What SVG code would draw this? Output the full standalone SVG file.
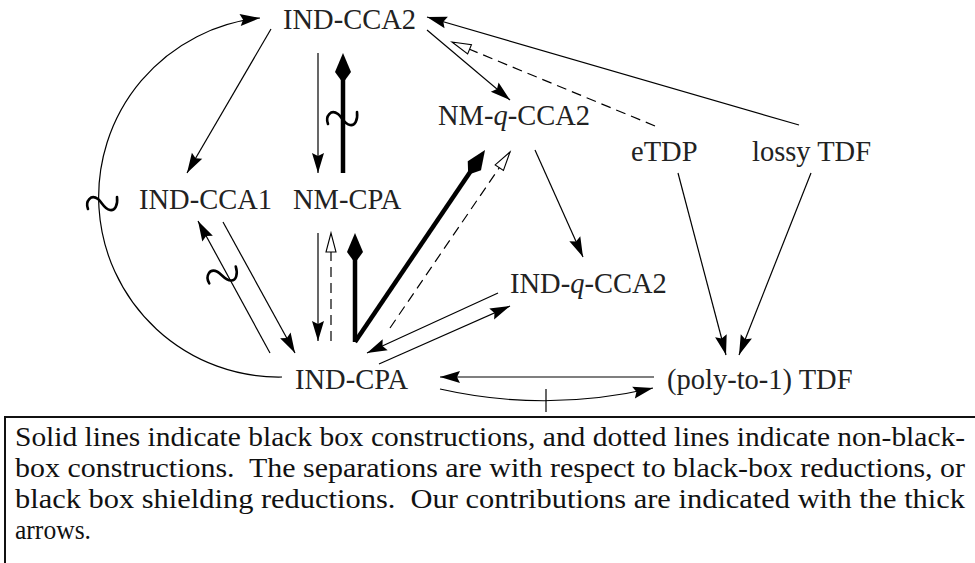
<svg xmlns="http://www.w3.org/2000/svg" width="975" height="563" viewBox="0 0 975 563">
<style>
  .lbl { font-family: "Liberation Serif", "Times New Roman", serif; font-size: 28.5px; fill: #222; }
  .cap { font-family: "Liberation Serif", "Times New Roman", serif; font-size: 28px; fill: #111; white-space: pre; }
  .thin { stroke: #000; stroke-width: 1.2; fill: none; }
  .thick { stroke: #000; stroke-width: 4.5; fill: none; }
  .dash { stroke: #000; stroke-width: 1.2; fill: none; stroke-dasharray: 10 6; }
  .sq { stroke: #000; stroke-width: 2.6; fill: none; stroke-linecap: round; }
</style>
<defs>
  <marker id="ah" markerUnits="userSpaceOnUse" orient="auto" refX="0" refY="0" markerWidth="30" markerHeight="20" style="overflow:visible">
    <path d="M0,0 L-20,-6 L-17,0 L-20,6 Z" fill="#000"/>
  </marker>
  <marker id="ahT" markerUnits="userSpaceOnUse" orient="auto" refX="-12" refY="0" markerWidth="40" markerHeight="30" style="overflow:visible">
    <path d="M0,0 L-19,-8 L-27,-2.2 L-27,2.2 L-19,8 Z" fill="#000"/>
  </marker>
  <marker id="ahO" markerUnits="userSpaceOnUse" orient="auto" refX="0" refY="0" markerWidth="30" markerHeight="20" style="overflow:visible">
    <path d="M0,0 L-19,-5 L-19,5 Z" fill="#fff" stroke="#000" stroke-width="1.1"/>
  </marker>
  <path id="squig" d="M-14,6 C-17,-2 -11,-9 -4,-4 C0,-1 2,6 8,7 C13,8 16,2 15,-6"/>
</defs>

<g id="connectors">
  <path class="thin" d="M 282 377 A 180 180 0 0 1 260 18" marker-end="url(#ah)"/>
  <use href="#squig" class="sq" transform="translate(102,203)"/>
  <line class="thin" x1="271" y1="29" x2="187" y2="173" marker-end="url(#ah)"/>
  <line class="thin" x1="318" y1="53" x2="318" y2="173" marker-end="url(#ah)"/>
  <line class="thick" x1="343" y1="173" x2="343" y2="65" marker-end="url(#ahT)"/>
  <use href="#squig" class="sq" transform="translate(342,118)"/>
  <line class="thin" x1="427" y1="30" x2="510" y2="100" marker-end="url(#ah)"/>
  <line class="dash" x1="655" y1="126" x2="452" y2="42" marker-end="url(#ahO)"/>
  <line class="thin" x1="799" y1="125" x2="427" y2="17" marker-end="url(#ah)"/>
  <line class="thin" x1="535" y1="150" x2="583" y2="257" marker-end="url(#ah)"/>
  <line class="thin" x1="678" y1="173" x2="726" y2="355" marker-end="url(#ah)"/>
  <line class="thin" x1="811" y1="173" x2="739" y2="355" marker-end="url(#ah)"/>
  <line class="thin" x1="270" y1="353" x2="198" y2="221" marker-end="url(#ah)"/>
  <use href="#squig" class="sq" transform="translate(222,275) rotate(-10)"/>
  <line class="thin" x1="223" y1="222" x2="295" y2="353" marker-end="url(#ah)"/>
  <line class="thin" x1="318" y1="233" x2="318" y2="341" marker-end="url(#ah)"/>
  <line class="dash" x1="331" y1="341" x2="331" y2="233" marker-end="url(#ahO)"/>
  <line class="thick" x1="355" y1="342" x2="355" y2="245" marker-end="url(#ahT)"/>
  <line class="thick" x1="355" y1="342" x2="478.3" y2="159.9" marker-end="url(#ahT)"/>
  <line class="dash" x1="390" y1="328" x2="510" y2="152" marker-end="url(#ahO)"/>
  <line class="thin" x1="498" y1="293" x2="367" y2="353" marker-end="url(#ah)"/>
  <line class="thin" x1="379" y1="364" x2="510" y2="306" marker-end="url(#ah)"/>
  <line class="thin" x1="654" y1="377" x2="440" y2="377" marker-end="url(#ah)"/>
  <path class="thin" d="M 440 389 Q 546 413 653 388" marker-end="url(#ah)"/>
  <line class="thin" x1="546" y1="389" x2="546" y2="412" stroke-width="1.6"/>
</g>

<g id="IND-CCA2"><text class="lbl" x="283" y="29">IND-CCA2</text></g>
<g id="NM-q-CCA2"><text class="lbl" x="438" y="125">NM-<tspan font-style="italic">q</tspan>-CCA2</text></g>
<g id="eTDP"><text class="lbl" x="631" y="161">eTDP</text></g>
<g id="lossy-TDF"><text class="lbl" x="752" y="161">lossy TDF</text></g>
<g id="IND-CCA1"><text class="lbl" x="139" y="209">IND-CCA1</text></g>
<g id="NM-CPA"><text class="lbl" x="293" y="209">NM-CPA</text></g>
<g id="IND-q-CCA2"><text class="lbl" x="510" y="293">IND-<tspan font-style="italic">q</tspan>-CCA2</text></g>
<g id="IND-CPA"><text class="lbl" x="295" y="389">IND-CPA</text></g>
<g id="poly-TDF"><text class="lbl" x="667" y="389">(poly-to-1) TDF</text></g>

<g id="caption">
  <rect x="5" y="417" width="990" height="170" fill="none" stroke="#111" stroke-width="2"/>
  <text class="cap" x="15" y="446" textLength="950" lengthAdjust="spacingAndGlyphs">Solid lines indicate black box constructions, and dotted lines indicate non-black-</text>
  <text class="cap" x="15" y="477" textLength="950" lengthAdjust="spacingAndGlyphs">box constructions.  The separations are with respect to black-box reductions, or</text>
  <text class="cap" x="15" y="508" textLength="950" lengthAdjust="spacingAndGlyphs">black box shielding reductions.  Our contributions are indicated with the thick</text>
  <text class="cap" x="15" y="539" textLength="76" lengthAdjust="spacingAndGlyphs">arrows.</text>
</g>
</svg>
